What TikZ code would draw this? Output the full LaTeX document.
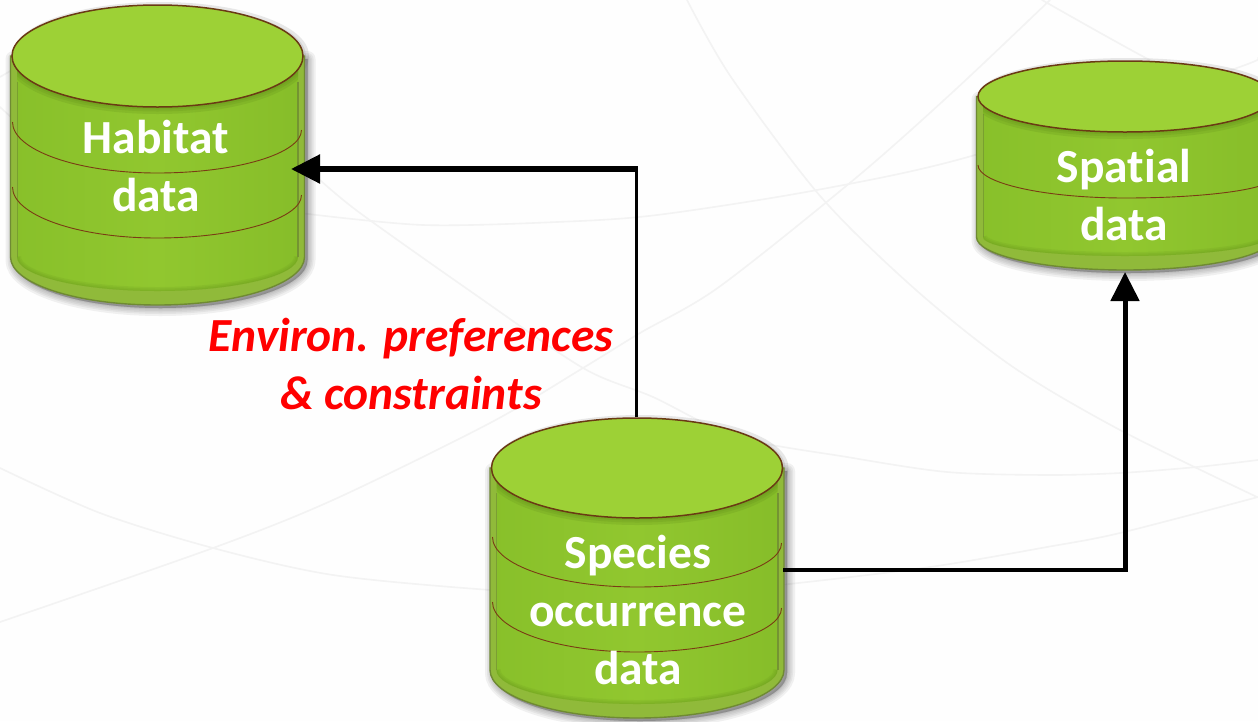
\documentclass[tikz,border=0pt]{standalone}
\usepackage{fontspec}
\setmainfont{Carlito}[Ligatures=NoCommon]
\usetikzlibrary{arrows.meta,shapes.geometric}
\definecolor{bgline}{HTML}{F3F3F3}
\definecolor{lidgreen}{HTML}{9DD136}
\definecolor{lidedge}{HTML}{6A3A14}
\definecolor{bandedge}{HTML}{7A3B14}
\definecolor{rimgreen}{HTML}{90BA3A}
\definecolor{rimedge}{HTML}{6F8A33}
\definecolor{faceA}{HTML}{88C02A}
\definecolor{faceB}{HTML}{91C72F}
\definecolor{faceC}{HTML}{86BD29}
\definecolor{lidshade}{HTML}{5E8A18}
\tikzset{
  bgcurve/.style={draw=bgline,line width=1.6pt,line cap=round},
  cyltext/.style={text=white,font=\fontsize{47.5}{58}\selectfont\bfseries,align=center,inner sep=0pt},
  redtext/.style={text=red,font=\fontsize{47.5}{58}\selectfont\bfseries\itshape,align=center,inner sep=0pt},
  conn/.style={draw=black,line cap=butt},
  tip/.style={-{Triangle[length=29pt,width=28pt]}},
  bandline/.style={draw=bandedge,line width=0.9pt},
}
% name, cx, rx, cy, ry, y where the straight side ends, radius of the lower curve
\newcommand{\dbcyl}[7]{%
  \pgfmathsetmacro{\RR}{#3+1.5}
  \pgfmathsetmacro{\LX}{#2-\RR}\pgfmathsetmacro{\RX}{#2+\RR}
  \pgfmathsetmacro{\IR}{\RR-6.5}
  \pgfmathsetmacro{\ILX}{#2-\IR}\pgfmathsetmacro{\IRX}{#2+\IR}
  \pgfmathsetmacro{\IRB}{#7-14}
  % soft shadow
  \foreach \w in {16,12,9,6,3,1}{
    \draw[line width=\w pt,draw=black!70,fill=black!70,opacity=0.08,line join=round,shift={(3,3)}]
      (\LX,#4) -- (\LX,#6) arc[start angle=180,end angle=0,x radius=\RR,y radius=#7] -- (\RX,#4) -- cycle;
  }
  \draw[draw=black!60,fill=black!60,opacity=0.15,line join=round,shift={(3,0)},line width=6pt]
      (#2,#4) ellipse[x radius=#3,y radius=#5];
  % body with rim
  \draw[fill=rimgreen,draw=rimedge,line width=1.4pt]
    (\LX,#4) -- (\LX,#6) arc[start angle=180,end angle=0,x radius=\RR,y radius=#7] -- (\RX,#4) -- cycle;
  % inner face
  \begin{scope}
    \clip (\ILX,#4) -- (\ILX,#6) arc[start angle=180,end angle=0,x radius=\IR,y radius=\IRB] -- (\IRX,#4) -- cycle;
    \shade[left color=faceA,right color=faceC,middle color=faceB]
      (\LX,#4-2) rectangle (\RX,#6+#7+2);
    \foreach \w in {8,5,2}{
      \draw[draw=lidshade,line width=\w pt,opacity=0.13] (\ILX,#6) arc[start angle=180,end angle=0,x radius=\IR,y radius=\IRB];
    }
    \foreach \w in {14,9,5}{
      \draw[draw=lidshade,line width=\w pt,opacity=0.2] (#2,#4) ellipse[x radius=#3,y radius=#5];
    }
  \end{scope}
  \draw[draw=rimedge,line width=1pt,opacity=.6] (\ILX,#4+#5/2) -- (\ILX,#6);
  \draw[draw=rimedge,line width=2pt,opacity=.8] (\IRX,#4+#5/2) -- (\IRX,#6);
  % lid
  \node[draw=lidedge,fill=lidgreen,line width=1.5pt,ellipse,inner sep=0pt,
        minimum width=2*#3 pt,minimum height=2*#5 pt] (#1) at (#2,#4) {};
}
% band: cx, rx, y left, y middle, y right
\newcommand{\cylband}[5]{%
  \pgfmathsetmacro{\BL}{#1-#2}\pgfmathsetmacro{\BR}{#1+#2}
  \pgfmathsetmacro{\CLa}{#1-0.55*#2}\pgfmathsetmacro{\CRa}{#1+0.55*#2}
  \pgfmathsetmacro{\CYl}{#3+0.55*(#4-#3)}\pgfmathsetmacro{\CYr}{#5+0.55*(#4-#5)}
  \draw[bandline] (\BL,#3) .. controls (\BL,\CYl) and (\CLa,#4) .. (#1,#4)
     .. controls (\CRa,#4) and (\BR,\CYr) .. (\BR,#5);
}
\begin{document}
\begin{tikzpicture}[x=1pt,y=-1pt]
\useasboundingbox (0,0) rectangle (1258,721);
\clip (0,0) rectangle (1258,721);
\fill[white!99.5!black] (0,0) rectangle (1258,721);
% background curves
\draw[bgcurve] plot[smooth] coordinates {(300,213) (423,225) (557,222) (657,215) (817,190) (975,155) (1231,70) (1258,58)};
\draw[bgcurve] plot[smooth] coordinates {(687,0) (731,77) (821,197) (916,290) (1013,367) (1120,430) (1257,497)};
\draw[bgcurve] plot[smooth] coordinates {(1050,0) (955,90) (857,177) (719,287) (640,333) (583,368) (490,423) (333,500) (213,548) (0,622)};
\draw[bgcurve] plot[smooth] coordinates {(1042,0) (1144,57) (1258,115)};
\draw[bgcurve] plot[smooth] coordinates {(320,180) (360,213) (473,293) (583,368) (653,397) (737,437) (847,457) (947,472) (1047,475) (1120,473) (1197,467) (1258,460)};
\draw[bgcurve] plot[smooth] coordinates {(0,468) (100,513) (213,548) (333,575) (490,590) (640,598) (780,585) (930,567) (1047,547) (1120,533) (1258,497)};
\draw[bgcurve] (0,77) -- (12,70);
\draw[bgcurve] (0,107) -- (12,118);
% cylinders
\dbcyl{habitat}{157.5}{145.5}{56}{51}{257}{48}
\cylband{157}{144.5}{122}{173}{130}
\cylband{157}{144.5}{187}{238}{195}
\dbcyl{species}{637}{145.5}{468}{50}{670}{48}
\cylband{637}{144.5}{537}{587}{543}
\cylband{637}{144.5}{602}{652}{608}
\dbcyl{spatial}{1125}{147}{96.5}{35.5}{237}{33}
\cylband{1125}{147}{165}{198}{178}
% labels
\node[cyltext] (habitatlabel) at (156,166) {Habitat\\data};
\node[cyltext] (specieslabel) at (638,610) {Species\\occurrence\\data};
\node[cyltext] (spatiallabel) at (1124,195) {Spatial\\data};
\node[redtext] (preflabel) at (411,364) {Environ. preferences\\\& constraints};
% connectors
\coordinate (habitatport) at (291,169);
\coordinate (leftcorner) at (636.5,169);
\coordinate (speciesport) at (species.east |- 0,570);
\coordinate (spatialport) at (1125,272);
\coordinate (rightcorner) at (spatialport |- speciesport);
\draw[conn,line width=3.4pt] (leftcorner |- species.north) -- ([yshift=-2.5pt]leftcorner);
\draw[conn,line width=5.4pt,tip] ([xshift=1.7pt]leftcorner) -- (habitatport);
\draw[conn,line width=4pt] (speciesport) -- ([xshift=2.5pt]rightcorner);
\draw[conn,line width=5pt,tip] ([yshift=2pt]rightcorner) -- (spatialport);
\end{tikzpicture}
\end{document}
